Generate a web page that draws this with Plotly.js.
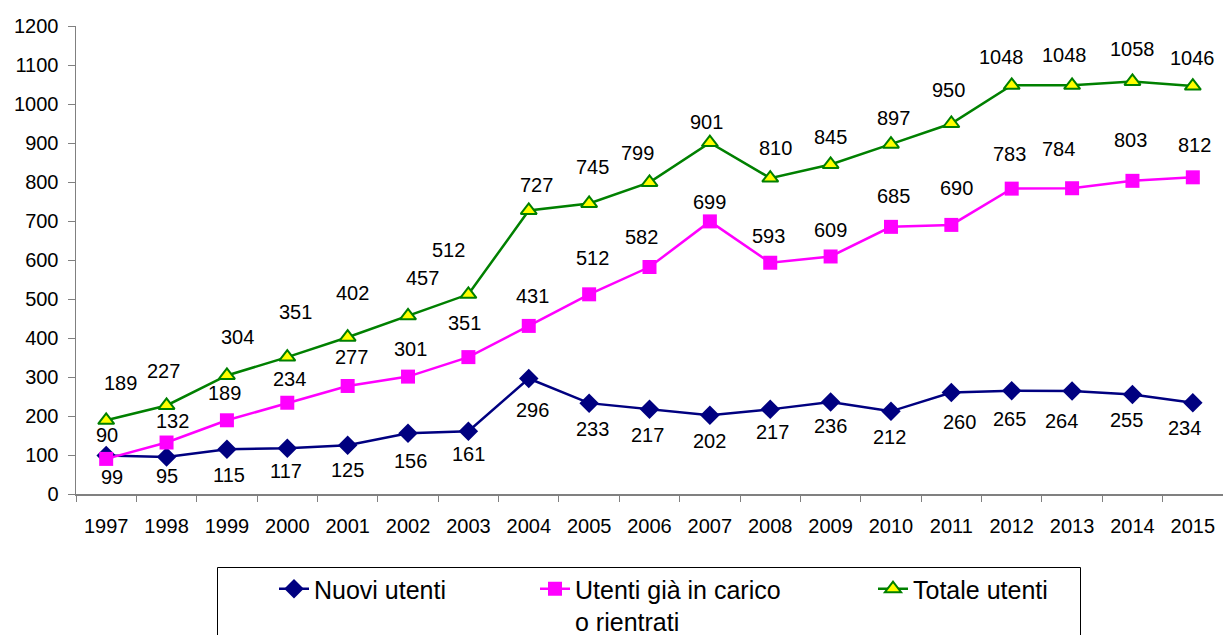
<!DOCTYPE html>
<html>
<head>
<meta charset="utf-8">
<script src="https://cdn.plot.ly/plotly-3.0.1.min.js"></script>
<style>html,body{margin:0;padding:0;background:#fff;}#chart{width:1223px;height:635px;}</style>
</head>
<body>
<div id="chart"></div>
<script>
// ---- data ----
const years = ['1997','1998','1999','2000','2001','2002','2003','2004','2005','2006','2007','2008','2009','2010','2011','2012','2013','2014','2015'];
const nuoviUtenti = [99,95,115,117,125,156,161,296,233,217,202,217,236,212,260,265,264,255,234];
const utentiGiaInCarico = [90,132,189,234,277,301,351,431,512,582,699,593,609,685,690,783,784,803,812];
const totaleUtenti = [189,227,304,351,402,457,512,727,745,799,901,810,845,897,950,1048,1048,1058,1046];
const seriesNames = ['Nuovi utenti', 'Utenti già in carico<br>o rientrati', 'Totale utenti'];

// ---- label nudges (pixels, layout only) ----
const nudgeNuovi = {dx:[6,0,2,-1,0,2,0,4,3,-2,0,2,0,-1,8,-2,-11,-6,-8], dy:[22,19,26,23,25,28,23,31,26,26,26,23,24,26,29,28,30,25,25]};
const nudgeGia = {dx:[1,6,-2,2,4,2,-4,4,3,-8,0,-2,0,3,5,-2,-14,-2,2], dy:[-24,-22,-27,-24,-29,-28,-34,-30,-36,-30,-19,-27,-26,-31,-37,-35,-39,-41,-32]};
const nudgeTot = {dx:[14,-3,11,8,5,14,-20,8,3,-12,-3,5,0,3,-3,-10,-8,0,0], dy:[-37,-34,-38,-45,-44,-38,-44,-25,-36,-29,-21,-30,-27,-26,-34,-28,-30,-32,-28]};

const FONT = 'Liberation Sans, Arial, sans-serif';
const W = 1223, H = 635;
const M = {l:76, r:0, t:26, b:141};

const traces = [
  {x: years, y: nuoviUtenti, name: seriesNames[0], type:'scatter', mode:'lines+markers',
   line:{color:'#000080', width:2.5}, marker:{symbol:'diamond', size:15, color:'#000080'}, legend:'legend'},
  {x: years, y: utentiGiaInCarico, name: seriesNames[1], type:'scatter', mode:'lines+markers',
   line:{color:'#FF00FF', width:2.5}, marker:{symbol:'square', size:14, color:'#FF00FF'}, legend:'legend2'},
  {x: years, y: totaleUtenti, name: seriesNames[2], type:'scatter', mode:'lines+markers',
   line:{color:'#008000', width:2.5}, marker:{symbol:'triangle-up', size:14, color:'#FFFF00', line:{color:'#008000', width:2}}, legend:'legend3'}
];

const annotations = [];
function addLabels(vals, nudge){
  vals.forEach(function(v,i){
    annotations.push({x: i, y: v, xref:'x', yref:'y', text:String(v), showarrow:false,
      xanchor:'center', yanchor:'middle', xshift:nudge.dx[i], yshift:-nudge.dy[i],
      font:{family:FONT, size:20, color:'#000000'}});
  });
}
addLabels(nuoviUtenti, nudgeNuovi);
addLabels(utentiGiaInCarico, nudgeGia);
addLabels(totaleUtenti, nudgeTot);

function cx(px){ return px / W; }
function cy(py){ return 1 - py / H; }
function legendAt(px, py){
  return {xref:'container', yref:'container', x:cx(px), y:cy(py), xanchor:'left', yanchor:'top',
    orientation:'h', bgcolor:'rgba(0,0,0,0)', borderwidth:0, valign:'top',
    font:{family:FONT, size:25, color:'#000'}};
}
function px2paperX(px){ return (px - M.l) / (W - M.l - M.r); }
function py2paperY(py){ return (H - M.b - py) / (H - M.t - M.b); }

const layout = {
  width: W, height: H,
  margin: M,
  paper_bgcolor:'#fff', plot_bgcolor:'#fff',
  font:{family:FONT, size:20, color:'#000'},
  showlegend:true,
  xaxis:{type:'category', range:[-0.5, 18.5], tickson:'boundaries', ticks:'outside', ticklen:6,
    tickcolor:'#808080', showline:true, linecolor:'#808080', linewidth:1.5, showgrid:false, zeroline:false,
    tickfont:{family:FONT, size:20, color:'#000'}, ticklabelstandoff:13},
  yaxis:{range:[0,1200], dtick:100, tick0:0, ticks:'outside', ticklen:7, tickcolor:'#808080',
    showline:true, linecolor:'#808080', linewidth:1.5, showgrid:false, zeroline:false,
    tickfont:{family:FONT, size:20, color:'#000'}, ticklabelstandoff:5},
  legend: legendAt(274, 566),
  legend2: legendAt(535, 566),
  legend3: legendAt(873, 566),
  shapes:[{type:'rect', xref:'paper', yref:'paper', x0:px2paperX(217.5), x1:px2paperX(1080.5),
    y0:py2paperY(567.5), y1:py2paperY(650), line:{color:'#000', width:1}, fillcolor:'rgba(0,0,0,0)'}]
};

Plotly.newPlot('chart', traces, layout, {displayModeBar:false, staticPlot:true}).then(function(gd){
  return Plotly.relayout(gd, {annotations: annotations});
});
</script>
</body>
</html>
